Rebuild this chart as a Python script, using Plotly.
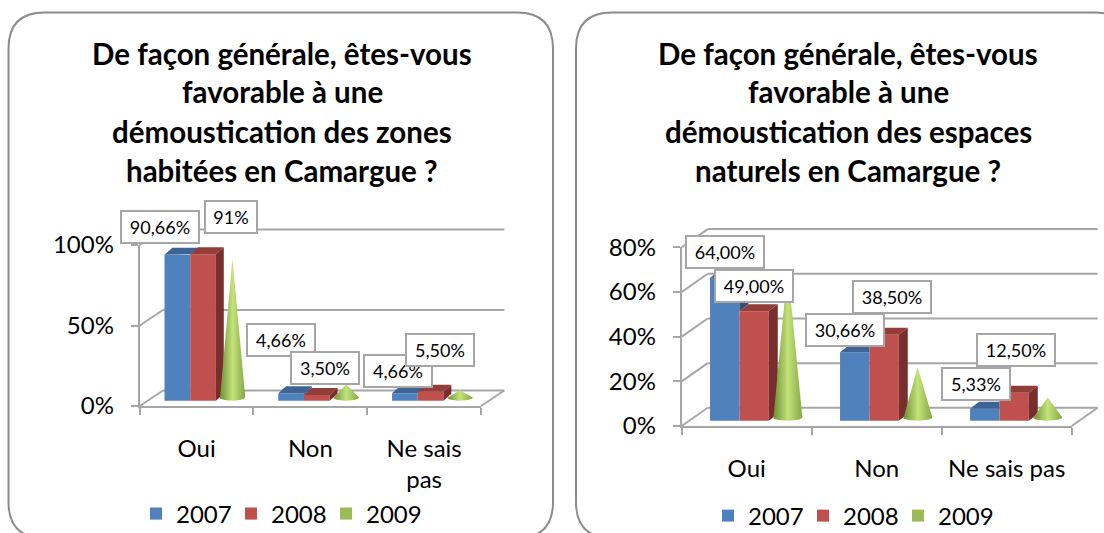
import numpy as np
import plotly.graph_objects as go

W, H = 1104, 533
categories_left = ["Oui", "Non", "Ne sais<br>pas"]
categories_right = ["Oui", "Non", "Ne sais pas"]
years = ["2007", "2008", "2009"]

left_2007 = [90.66, 4.66, 4.66]
left_2008 = [91.0, 3.5, 5.5]
left_2009 = [86.0, 8.0, 4.5]
right_2007 = [64.0, 30.66, 5.33]
right_2008 = [49.0, 38.5, 12.5]
right_2009 = [67.0, 22.5, 9.0]

left_ticks = [0, 50, 100]
right_ticks = [0, 20, 40, 60, 80]
title_left = ["De façon générale, êtes-vous", "favorable à une", "démoustication des zones", "habitées en Camargue ?"]
title_right = ["De façon générale, êtes-vous", "favorable à une", "démoustication des espaces", "naturels en Camargue ?"]
labels_left = ["90,66%", "91%", "4,66%", "3,50%", "4,66%", "5,50%"]
labels_right = ["64,00%", "49,00%", "38,50%", "30,66%", "5,33%", "12,50%"]

# layout in pixels
label_pos_left = [(160, 227, 72), (231.3, 216.5, 46), (281, 340, 62), (324.7, 367.5, 62), (398, 371, 62), (440, 350, 62)]
label_pos_right = [(725, 252.5, 72), (754, 286, 72), (891.7, 297, 72), (844.7, 329.5, 72), (976.3, 383.7, 62), (1015.8, 349.7, 72)]
BLUE, RED = "#4f81bd", "#c0504d"
GREEN = "#9bbb59"
TOPS = {"b": "#3c6494", "r": "#933d3b"}
SIDES = {"b": "#2f5075", "r": "#772e2c"}
GRID = "#a6a6a6"
FONT = "Lato"
TICK_SIZE, LABEL_SIZE, TITLE_SIZE = 24, 18, 29.5


def px(x):
    return x / W


def py(y):
    return 1 - y / H


fig = go.Figure()
annotations = []


def poly(xs, ys, color, xa, ya):
    fig.add_trace(go.Scatter(x=xs, y=ys, mode="lines", fill="toself", fillcolor=color, line=dict(width=0),
                             showlegend=False, hoverinfo="skip", cliponaxis=False, xaxis=xa, yaxis=ya))


def chart(n, cats, s07, s08, s09, ticks, front, depth, legend, titles, tcx, labels, lpos):
    x0, x1, y0, ytop = front
    ddx, ddy = depth
    ymax = ticks[-1]
    unit_x = (x1 - x0) / 3
    unit_y = (y0 - ytop) / ymax
    back_x, back_y = f"x{n}", f"y{n}"
    fx, fy = f"x{n+1}", f"y{n+1}"
    backsuf = "" if n == 1 else str(n)
    frontsuf = str(n + 1)
    dxc = ddx / unit_x
    dyc = ddy / unit_y
    pad = 3
    padx, pady = pad / unit_x, pad / unit_y
    fig.update_layout(**{
        f"xaxis{backsuf}": dict(domain=[px(x0 - pad), px(x1 + ddx + pad)], range=[-0.5 - dxc - padx, 2.5 + padx], visible=False, anchor=back_y),
        f"yaxis{backsuf}": dict(domain=[py(y0 + pad), py(ytop - ddy - pad)], range=[-dyc - pady, ymax + pady], visible=False, anchor=back_x),
        f"xaxis{frontsuf}": dict(domain=[px(x0), px(x1)], range=[-0.5, 2.5], anchor=fy, tickmode="array",
                                 tickvals=[0, 1, 2], ticktext=cats, ticks="", showline=True, linecolor=GRID, linewidth=2,
                                 showgrid=False, zeroline=False, ticklabelstandoff=20,
                                 tickfont=dict(size=TICK_SIZE, family=FONT, color="#000"),
                                 minor=dict(tickmode="array", tickvals=[-0.5, 0.5, 1.5, 2.5], ticks="outside", ticklen=7,
                                            tickwidth=2, tickcolor=GRID, showgrid=False)),
        f"yaxis{frontsuf}": dict(domain=[py(y0), py(ytop)], range=[0, ymax], anchor=fx, tickmode="array", tickvals=ticks,
                                 ticktext=[f"{t}%" for t in ticks], ticks="outside", ticklen=7, tickwidth=2, tickcolor=GRID,
                                 showline=True, linecolor=GRID, linewidth=2, showgrid=False, zeroline=False, ticklabelstandoff=12,
                                 tickfont=dict(size=TICK_SIZE, family=FONT, color="#000")),
    })
    # walls: gridlines on the back plane and diagonals, drawn in a subplot beneath the bars
    def wall(xs, ys):
        fig.add_trace(go.Scatter(x=xs, y=ys, mode="lines", line=dict(color=GRID, width=2), showlegend=False,
                                 hoverinfo="skip", xaxis=back_x, yaxis=back_y))
    for t in ticks:
        wall([-0.5, 2.5], [t, t])
        wall([-0.5 - dxc, -0.5], [t - dyc, t])
    wall([2.5 - dxc, 2.5], [-dyc, 0])

    off, bw, cone_off, cone_half = 0.218, 0.226, 0.815, 0.113
    bdx = 0.069
    base = 5.3 / unit_y
    bdy = 7.0 / unit_y
    idx = np.arange(3)
    b_left = idx - 0.5 + off
    r_left = b_left + bw
    for name, vals, left, color in ((years[0], s07, b_left, BLUE), (years[1], s08, r_left, RED)):
        fig.add_trace(go.Bar(x=left + bw / 2, y=vals, base=[base] * 3, width=bw, name=name, marker=dict(color=color, line=dict(width=0)),
                             cliponaxis=False, xaxis=fx, yaxis=fy, legend=legend, hoverinfo="skip"))
    fig.add_trace(go.Bar(x=[None], y=[None], name=years[2], marker=dict(color=GREEN, line=dict(width=0)),
                         xaxis=fx, yaxis=fy, legend=legend))

    for i in idx:
        yb, yr = s07[i] + base, s08[i] + base
        a, b, c = b_left[i], r_left[i], r_left[i] + bw
        if yb > yr:
            poly([b, b + bdx, b + bdx, b], [yb, yb + bdy, yr + bdy, yr], SIDES["b"], fx, fy)
        if yr <= yb:
            poly([a, b, b + bdx, a + bdx], [yb, yb, yb + bdy, yb + bdy], TOPS["b"], fx, fy)
        elif yr >= yb + bdy:
            poly([a, b, b, a + bdx], [yb, yb, yb + bdy, yb + bdy], TOPS["b"], fx, fy)
        else:
            xc = b + bdx * (yr - yb) / bdy
            poly([a, b, b, xc, b + bdx, a + bdx], [yb, yb, yr, yr, yb + bdy, yb + bdy], TOPS["b"], fx, fy)
        poly([b, c, c + bdx, b + bdx], [yr, yr, yr + bdy, yr + bdy], TOPS["r"], fx, fy)
        poly([c, c + bdx, c + bdx, c], [yr, yr + bdy, base + bdy, base], SIDES["r"], fx, fy)
        cx = i - 0.5 + cone_off
        cy = base + 3.2 / unit_y
        th = np.linspace(np.pi, 2 * np.pi, 25)
        ex = cx + cone_half * np.cos(th)
        ey = cy + (3.2 / unit_y) * np.sin(th)
        xs = np.concatenate(([cx], ex, [cx]))
        ys = np.concatenate(([cy + s09[i]], ey, [cy + s09[i]]))
        fig.add_trace(go.Scatter(x=xs, y=ys, mode="lines", fill="toself", line=dict(width=0), showlegend=False,
                                 hoverinfo="skip", cliponaxis=False, xaxis=fx, yaxis=fy,
                                 fillgradient=dict(type="horizontal", colorscale=[[0, "#6f8f34"], [0.5, "#c3e37a"], [1, "#86a743"]])))

    for k, line in enumerate(titles):
        annotations.append(dict(text=line, xref="paper", yref="paper", x=px(tcx), y=py([54, 92, 131, 171][k]), showarrow=False,
                                xanchor="center", yanchor="middle", font=dict(size=TITLE_SIZE, family=FONT, color="#000", weight="bold")))
    for txt, (lx, ly, lw) in zip(labels, lpos):
        annotations.append(dict(text=txt, xref="paper", yref="paper", x=px(lx), y=py(ly), showarrow=False, xanchor="center",
                                yanchor="middle", width=lw, height=26, bgcolor="#fff", bordercolor=GRID, borderwidth=2, borderpad=2,
                                font=dict(size=LABEL_SIZE, family=FONT, color="#000")))


chart(1, categories_left, left_2007, left_2008, left_2009, left_ticks, (139.7, 481, 406, 245), (23.3, 15.5), "legend",
      title_left, 282, labels_left, label_pos_left)
chart(3, categories_right, right_2007, right_2008, right_2009, right_ticks, (681.7, 1071.7, 426, 247.3), (26, 18.2), "legend2",
      title_right, 848, labels_right, label_pos_right)


def panel(l, t, r, b, rad):
    return (f"M{px(l)},{py(t + rad)} Q{px(l)},{py(t)} {px(l + rad)},{py(t)} L{px(r - rad)},{py(t)} Q{px(r)},{py(t)} {px(r)},{py(t + rad)} "
            f"L{px(r)},{py(b - rad)} Q{px(r)},{py(b)} {px(r - rad)},{py(b)} L{px(l + rad)},{py(b)} Q{px(l)},{py(b)} {px(l)},{py(b - rad)} Z")


leg = dict(orientation="h", xanchor="left", yanchor="middle", font=dict(size=TICK_SIZE, family=FONT, color="#000"),
           bgcolor="rgba(0,0,0,0)", entrywidth=50, entrywidthmode="pixels", itemclick=False, itemdoubleclick=False, tracegroupgap=0)
fig.update_layout(
    width=W, height=H, margin=dict(l=0, r=0, t=0, b=0, autoexpand=False), paper_bgcolor="#fff", plot_bgcolor="rgba(0,0,0,0)",
    barmode="overlay", annotations=annotations,
    legend=dict(leg, x=px(136), y=py(514)),
    legend2=dict(leg, x=px(708), y=py(516)),
    shapes=[dict(type="path", xref="paper", yref="paper", layer="below", path=panel(8.5, 12.5, 553, 538, 36), line=dict(color="#8c8c8c", width=2), fillcolor="#fff"),
            dict(type="path", xref="paper", yref="paper", layer="below", path=panel(576, 12.5, 1130, 538, 36), line=dict(color="#8c8c8c", width=2), fillcolor="#fff")],
)
fig.write_html("out.html", config=dict(displayModeBar=False),
               post_script="document.body.style.margin='0';document.body.style.overflow='hidden';")
